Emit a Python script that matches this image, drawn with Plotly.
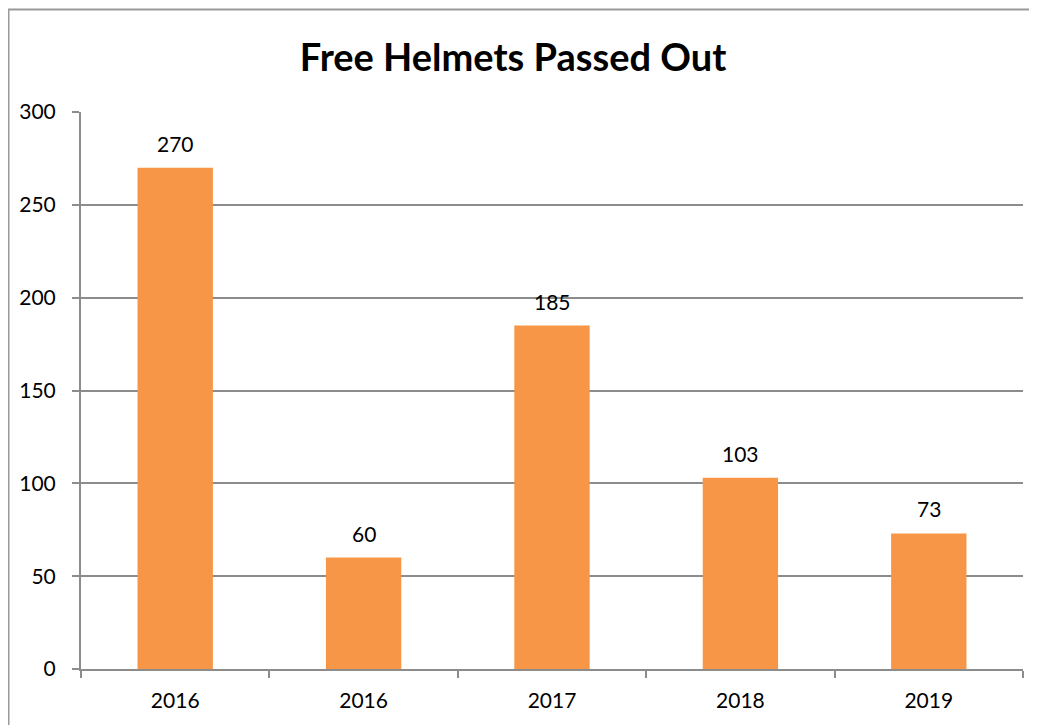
import plotly.graph_objects as go

categories = ["2016", "2016", "2017", "2018", "2019"]
values = [270, 60, 185, 103, 73]
y_ticks = [0, 50, 100, 150, 200, 250, 300]

BAR = "#F79646"
GRID = "#8c8c8c"
FONT = "Lato, Carlito, Calibri, sans-serif"

pos = list(range(len(categories)))
bounds = [p - 0.5 for p in pos] + [pos[-1] + 0.5]

# page has an 8px body margin, so the figure is sized/margined to land where the reference is
W, H = 1029, 717
ML, MR, MT, MB = 73, 14, 104, 56
pw, ph = W - ML - MR, H - MT - MB

fig = go.Figure()
fig.add_trace(go.Bar(x=pos, y=values, width=0.4, marker=dict(color=BAR, line=dict(width=0)),
                     showlegend=False, hoverinfo="skip"))

# data labels above bars
for p, v in zip(pos, values):
    fig.add_annotation(x=p, y=v, text=str(v), showarrow=False, yanchor="bottom", yshift=10,
                       font=dict(size=21, color="#000000", family=FONT))

# outer chart frame (runs off the right and bottom edges)
fig.add_shape(type="rect", xref="paper", yref="paper",
              x0=(0.5 - ML) / pw, x1=(W + 10 - ML) / pw,
              y0=-(MB + 10) / ph, y1=(ph + MT - 1.5) / ph,
              line=dict(color="#9a9a9a", width=2), fillcolor="rgba(0,0,0,0)")

fig.update_layout(
    width=W, height=H,
    paper_bgcolor="white", plot_bgcolor="white",
    margin=dict(l=ML, r=MR, t=MT, b=MB),
    title=dict(text="<b>Free Helmets Passed Out</b>", x=505 / W, xanchor="center",
               y=1 - 50 / H, yanchor="middle", font=dict(size=38, color="#000000", family=FONT)),
    xaxis=dict(range=[-0.5, len(categories) - 0.5], tickmode="array", tickvals=pos, ticktext=categories,
               ticks="", showgrid=False, zeroline=False, showline=True, linecolor=GRID, linewidth=2,
               ticklabelstandoff=12, tickfont=dict(size=21, color="#000000", family=FONT),
               minor=dict(tickmode="array", tickvals=bounds, ticks="outside", ticklen=7,
                          tickcolor=GRID, tickwidth=2, showgrid=False)),
    yaxis=dict(range=[0, 300], tickmode="array", tickvals=y_ticks, showgrid=True, gridcolor=GRID,
               gridwidth=1.5, zeroline=False, showline=True, linecolor=GRID, linewidth=2,
               ticks="outside", ticklen=7, tickcolor=GRID, tickwidth=2, ticklabelstandoff=12,
               tickfont=dict(size=21, color="#000000", family=FONT)),
)

fig.write_html("out.html")
